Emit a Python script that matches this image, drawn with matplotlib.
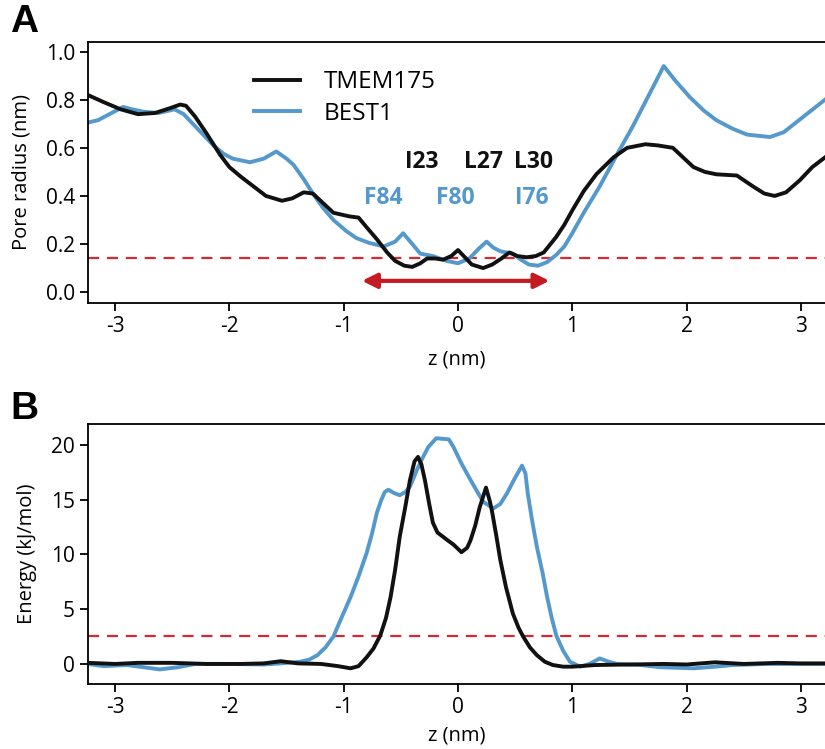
import matplotlib
matplotlib.use("Agg")
import matplotlib.pyplot as plt

plt.rcParams['font.family'] = ['Open Sans', 'DejaVu Sans']
plt.rcParams['axes.unicode_minus'] = False

# ── Data ──────────────────────────────────────────────────────────────────────
# Panel A: pore radius (nm) vs z (nm)
tmem_rad_z = [-3.24, -3.10, -2.95, -2.80, -2.65, -2.52, -2.43, -2.38, -2.30, -2.20,
              -2.08, -2.00, -1.90, -1.79, -1.68, -1.54, -1.45, -1.35, -1.27, -1.18,
              -1.09, -0.95, -0.87, -0.80, -0.71, -0.62, -0.55, -0.47, -0.40, -0.33,
              -0.27, -0.20, -0.13, -0.06, 0.00, 0.05, 0.12, 0.22, 0.30, 0.38,
              0.45, 0.52, 0.60, 0.68, 0.75, 0.86, 0.93, 1.00, 1.10, 1.21,
              1.36, 1.48, 1.64, 1.75, 1.88, 1.97, 2.06, 2.16, 2.26, 2.44,
              2.58, 2.68, 2.77, 2.87, 2.99, 3.10, 3.21]
tmem_rad = [0.82, 0.79, 0.76, 0.74, 0.745, 0.765, 0.78, 0.775, 0.73, 0.66,
            0.57, 0.52, 0.48, 0.44, 0.40, 0.38, 0.39, 0.415, 0.41, 0.37,
            0.33, 0.315, 0.31, 0.27, 0.22, 0.165, 0.13, 0.11, 0.105, 0.12,
            0.14, 0.14, 0.135, 0.15, 0.175, 0.15, 0.115, 0.10, 0.115, 0.14,
            0.165, 0.15, 0.145, 0.15, 0.165, 0.23, 0.28, 0.34, 0.42, 0.49,
            0.56, 0.60, 0.615, 0.61, 0.60, 0.56, 0.52, 0.50, 0.49, 0.485,
            0.44, 0.41, 0.40, 0.415, 0.465, 0.52, 0.56]

best_rad_z = [-3.24, -3.15, -3.05, -2.93, -2.85, -2.75, -2.62, -2.48, -2.40, -2.32,
              -2.22, -2.14, -2.05, -1.97, -1.82, -1.70, -1.59, -1.50, -1.44, -1.35,
              -1.27, -1.18, -1.09, -0.98, -0.89, -0.78, -0.65, -0.55, -0.48, -0.40,
              -0.33, -0.22, -0.10, 0.00, 0.10, 0.18, 0.25, 0.31, 0.37, 0.48,
              0.55, 0.62, 0.70, 0.78, 0.86, 0.93, 1.00, 1.10, 1.24, 1.40,
              1.53, 1.66, 1.80, 1.90, 2.03, 2.15, 2.26, 2.40, 2.53, 2.73,
              2.85, 2.93, 3.05, 3.21]
best_rad = [0.705, 0.715, 0.74, 0.77, 0.76, 0.75, 0.745, 0.76, 0.74, 0.70,
            0.65, 0.61, 0.575, 0.555, 0.54, 0.555, 0.585, 0.555, 0.53, 0.47,
            0.41, 0.35, 0.30, 0.255, 0.225, 0.205, 0.19, 0.21, 0.245, 0.20,
            0.16, 0.15, 0.13, 0.12, 0.14, 0.18, 0.21, 0.185, 0.17, 0.16,
            0.135, 0.115, 0.11, 0.125, 0.155, 0.19, 0.245, 0.33, 0.44, 0.58,
            0.69, 0.81, 0.94, 0.88, 0.81, 0.755, 0.715, 0.68, 0.655, 0.645,
            0.665, 0.695, 0.74, 0.80]

# Panel B: energy (kJ/mol) vs z (nm)
tmem_en_z = [-3.24, -3.00, -2.80, -2.50, -2.20, -1.90, -1.70, -1.55, -1.40, -1.20,
             -1.05, -0.94, -0.87, -0.80, -0.74, -0.68, -0.63, -0.59, -0.55, -0.51,
             -0.46, -0.42, -0.38, -0.35, -0.32, -0.29, -0.25, -0.22, -0.18, -0.13,
             -0.08, -0.04, 0.03, 0.08, 0.11, 0.15, 0.19, 0.245, 0.28, 0.30,
             0.34, 0.37, 0.42, 0.48, 0.53, 0.57, 0.63, 0.69, 0.76, 0.83,
             0.92, 1.00, 1.20, 1.50, 1.80, 2.00, 2.25, 2.50, 2.80, 3.00, 3.21]
tmem_en = [0.1, 0.0, 0.1, 0.1, 0.0, 0.0, 0.05, 0.25, 0.05, 0.0,
           -0.2, -0.4, -0.2, 0.6, 1.4, 2.6, 4.2, 6.1, 8.6, 11.6,
           14.4, 16.8, 18.5, 18.9, 18.2, 16.8, 14.5, 12.9, 12.0, 11.6,
           11.2, 10.9, 10.2, 10.6, 11.3, 12.6, 14.3, 16.1, 14.8, 13.8,
           11.4, 9.5, 7.0, 4.6, 3.3, 2.5, 1.5, 0.8, 0.2, -0.1,
           -0.25, -0.25, -0.1, -0.05, 0.0, -0.05, 0.15, 0.0, 0.1, 0.05, 0.05]

best_en_z = [-3.24, -3.10, -2.90, -2.75, -2.61, -2.45, -2.30, -2.00, -1.70, -1.55,
             -1.38, -1.30, -1.23, -1.16, -1.09, -1.02, -0.94, -0.87, -0.80, -0.75,
             -0.71, -0.67, -0.64, -0.61, -0.56, -0.51, -0.46, -0.42, -0.36, -0.31,
             -0.26, -0.19, -0.08, -0.04, 0.03, 0.12, 0.22, 0.31, 0.37, 0.43,
             0.50, 0.56, 0.59, 0.61, 0.65, 0.69, 0.74, 0.78, 0.82, 0.86,
             0.92, 0.98, 1.07, 1.15, 1.24, 1.32, 1.39, 1.60, 1.77, 2.06,
             2.25, 2.41, 2.70, 3.00, 3.21]
best_en = [0.0, -0.2, -0.1, -0.3, -0.5, -0.3, 0.0, 0.0, -0.05, 0.05,
           0.2, 0.4, 0.8, 1.5, 2.5, 4.2, 6.1, 8.0, 10.1, 12.0,
           13.8, 15.0, 15.7, 15.9, 15.6, 15.4, 15.7, 16.2, 17.7, 18.8,
           19.8, 20.6, 20.5, 19.8, 18.3, 16.6, 14.8, 14.2, 14.6, 15.6,
           17.0, 18.1, 17.4, 15.6, 13.0, 10.7, 8.3, 6.1, 4.2, 2.6,
           1.2, 0.2, -0.25, 0.0, 0.5, 0.2, 0.0, -0.1, -0.3, -0.4,
           -0.25, -0.1, 0.0, 0.0, 0.0]

radius_cutoff = 0.14
energy_cutoff = 2.58
arrow_span = (-0.84, 0.80)

tmem_residues = [('I23', -0.32), ('L27', 0.22), ('L30', 0.66)]
best_residues = [('F84', -0.65), ('F80', -0.02), ('I76', 0.65)]

BLACK = '#111111'
BLUE = '#5599cc'
RED = '#d42a35'
ARROW_RED = '#c41a22'

fig = plt.figure(figsize=(8.25, 7.49), dpi=100)
axA = fig.add_axes([0.1067, 0.5955, 0.8933, 0.3484])
axB = fig.add_axes([0.1067, 0.0868, 0.8933, 0.3471])

for ax in (axA, axB):
    ax.spines['right'].set_visible(False)
    for s in ('left', 'bottom', 'top'):
        ax.spines[s].set_linewidth(1.3)
    ax.tick_params(direction='out', length=6, width=1.3, labelsize=15)
    ax.set_xlim(-3.237, 3.211)
    ax.set_xticks([-3, -2, -1, 0, 1, 2, 3])

# ── Panel A ───────────────────────────────────────────────────────────────────
axA.plot(tmem_rad_z, tmem_rad, color=BLACK, lw=2.8, label='TMEM175', zorder=3)
axA.plot(best_rad_z, best_rad, color=BLUE, lw=2.8, label='BEST1', zorder=2)
axA.axhline(radius_cutoff, color=RED, lw=1.6, dashes=(5, 3.5), zorder=1)
axA.annotate('', xy=(arrow_span[1], 0.047), xytext=(arrow_span[0], 0.047),
             arrowprops=dict(arrowstyle='<|-|>', color=ARROW_RED, lw=3.0,
                             mutation_scale=22, shrinkA=0, shrinkB=0))
for name, z in tmem_residues:
    axA.text(z, 0.54, name, color=BLACK, fontsize=16.5, fontweight='bold',
             ha='center', va='center')
for name, z in best_residues:
    axA.text(z, 0.39, name, color=BLUE, fontsize=16.5, fontweight='bold',
             ha='center', va='center')
axA.set_ylim(-0.045, 1.04)
axA.set_yticks([0.0, 0.2, 0.4, 0.6, 0.8, 1.0])
axA.set_ylabel('Pore radius (nm)', fontsize=14.5, labelpad=10)
axA.set_xlabel('z (nm)', fontsize=14.5, labelpad=9)
axA.legend(loc='upper left', bbox_to_anchor=(0.195, 0.975), frameon=False,
           fontsize=17.5, handlelength=1.9, handletextpad=1.0, labelspacing=0.3)

# ── Panel B ───────────────────────────────────────────────────────────────────
axB.plot(best_en_z, best_en, color=BLUE, lw=2.8, zorder=2)
axB.plot(tmem_en_z, tmem_en, color=BLACK, lw=2.8, zorder=3)
axB.axhline(energy_cutoff, color=RED, lw=1.6, dashes=(5, 3.5), zorder=1)
axB.set_ylim(-1.83, 21.9)
axB.set_yticks([0, 5, 10, 15, 20])
axB.set_ylabel('Energy (kJ/mol)', fontsize=14.5, labelpad=10)
axB.set_xlabel('z (nm)', fontsize=14.5, labelpad=5)

fig.text(0.012, 0.947, 'A', fontsize=28, fontweight='bold',
         family='Liberation Sans', va='bottom')
fig.text(0.012, 0.430, 'B', fontsize=28, fontweight='bold',
         family='Liberation Sans', va='bottom')

fig.savefig('out.png', dpi=100)
